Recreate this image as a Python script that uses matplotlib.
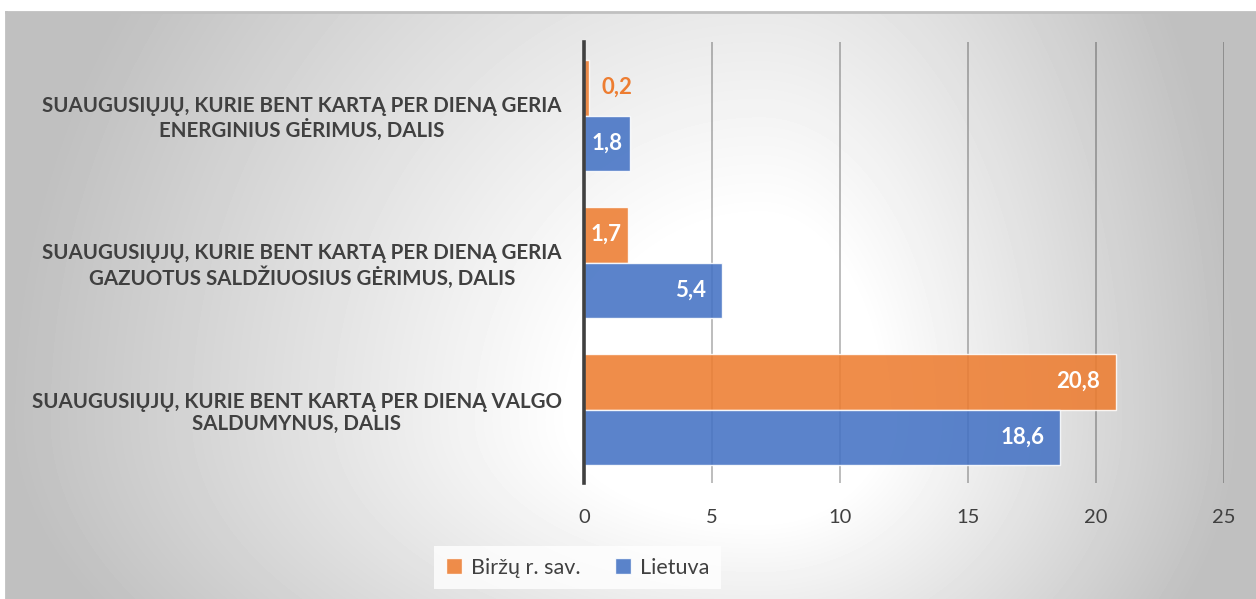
import numpy as np
import matplotlib
matplotlib.use("Agg")
import matplotlib.pyplot as plt
from matplotlib.patches import Patch

# data
categories = [
    "SUAUGUSIŲJŲ, KURIE BENT KARTĄ PER DIENĄ VALGO\nSALDUMYNUS, DALIS",
    "SUAUGUSIŲJŲ, KURIE BENT KARTĄ PER DIENĄ GERIA\nGAZUOTUS SALDŽIUOSIUS GĖRIMUS, DALIS",
    "SUAUGUSIŲJŲ, KURIE BENT KARTĄ PER DIENĄ GERIA\nENERGINIUS GĖRIMUS, DALIS",
]
birzai = [20.8, 1.7, 0.2]
lietuva = [18.6, 5.4, 1.8]
series_names = ["Biržų r. sav.", "Lietuva"]
xticks = [0, 5, 10, 15, 20, 25]

ORANGE = "#ED7D31"
BLUE = "#4472C4"
TXT = "#404040"
FONT = ["Lato", "DejaVu Sans"]

plt.rcParams["font.family"] = FONT

W, H = 1256, 599
fig = plt.figure(figsize=(W / 100, H / 100), dpi=100)
fig.patch.set_facecolor("white")

# radial-ish gradient background of the chart area
bg = fig.add_axes([6 / W, 0, 1 - 6 / W, 1 - 12 / H], zorder=-10)
px = np.arange(6, W)
py = np.arange(12, H)
X, Y = np.meshgrid(px, py)
cx, cy = 760, 420
dx = X - cx
dy = Y - cy
sx = np.where(dx < 0, 754.0, 480.0)
sy = np.where(dy < 0, 800.0, 400.0)
d = np.sqrt((dx / sx) ** 2 + (dy / sy) ** 2)
v = 1 - 0.25 * np.clip((d - 0.25) / 0.75, 0, 1)
bg.imshow(v, cmap="gray", vmin=0, vmax=1, aspect="auto", interpolation="bilinear")
bg.set_axis_off()
# chart border (top and left)
fig.add_artist(plt.Line2D([6 / W, 1], [1 - 12 / H, 1 - 12 / H], color="#c0c0c0", lw=2))
fig.add_artist(plt.Line2D([6 / W, 6 / W], [0, 1 - 12 / H], color="#c0c0c0", lw=2))

ax = fig.add_axes([584 / W, 1 - 483 / H, (1224 - 584) / W, (483 - 42) / H])
ax.set_facecolor("none")

y = np.arange(len(categories))
h = 0.38
ax.barh(y + h / 2, birzai, height=h, color=ORANGE, alpha=0.88,
        edgecolor=(1, 1, 1, 0.6), linewidth=1, zorder=2)
ax.barh(y - h / 2, lietuva, height=h, color=BLUE, alpha=0.88,
        edgecolor=(1, 1, 1, 0.6), linewidth=1, zorder=2)

ax.set_xlim(0, 25)
ax.set_ylim(-0.5, 2.5)
ax.set_xticks(xticks)
ax.set_xticklabels([str(t) for t in xticks], fontsize=14.5, color=TXT)
ax.set_yticks(y)
ax.set_yticklabels(categories, fontsize=14.8, fontweight="bold", color=TXT,
                   multialignment="center", linespacing=1.15)
ax.tick_params(axis="both", length=0)
ax.tick_params(axis="x", pad=19)
ax.tick_params(axis="y", pad=16)
ax.grid(axis="x", color="black", alpha=0.33, lw=1.1, zorder=1)
ax.set_axisbelow(True)
for s in ["top", "right", "bottom"]:
    ax.spines[s].set_visible(False)
ax.spines["left"].set_color(TXT)
ax.spines["left"].set_linewidth(2.6)
ax.spines["left"].set_zorder(3)


def fmt(val):
    return f"{val:.1f}".replace(".", ",")


def label(val, yy):
    if val < 1:
        ax.annotate(fmt(val), (val, yy), xytext=(12, 0), textcoords="offset pixels",
                    ha="left", va="center", fontsize=16, fontweight="bold",
                    color=ORANGE, zorder=4)
    elif val < 3:
        ax.text(val / 2, yy, fmt(val), ha="center", va="center", fontsize=16,
                fontweight="bold", color="white", zorder=4)
    else:
        ax.annotate(fmt(val), (val, yy), xytext=(-16, 0), textcoords="offset pixels",
                    ha="right", va="center", fontsize=16, fontweight="bold",
                    color="white", zorder=4)


for i in range(len(categories)):
    label(birzai[i], y[i] + h / 2)
    label(lietuva[i], y[i] - h / 2)

handles = [Patch(facecolor=ORANGE, alpha=0.88, edgecolor=(1, 1, 1, 0.6)),
           Patch(facecolor=BLUE, alpha=0.88, edgecolor=(1, 1, 1, 0.6))]
leg = fig.legend(handles, series_names, loc="center", bbox_to_anchor=(577.5 / W, 1 - 567.5 / H),
                 ncol=2, frameon=True, fancybox=False, fontsize=15.5,
                 handlelength=0.75, handleheight=0.75, handletextpad=0.4,
                 columnspacing=1.6, borderpad=0.55)
leg.get_frame().set_facecolor((1, 1, 1, 0.45))
leg.get_frame().set_edgecolor("none")
for t in leg.get_texts():
    t.set_color(TXT)

fig.savefig("out.png", dpi=100)
